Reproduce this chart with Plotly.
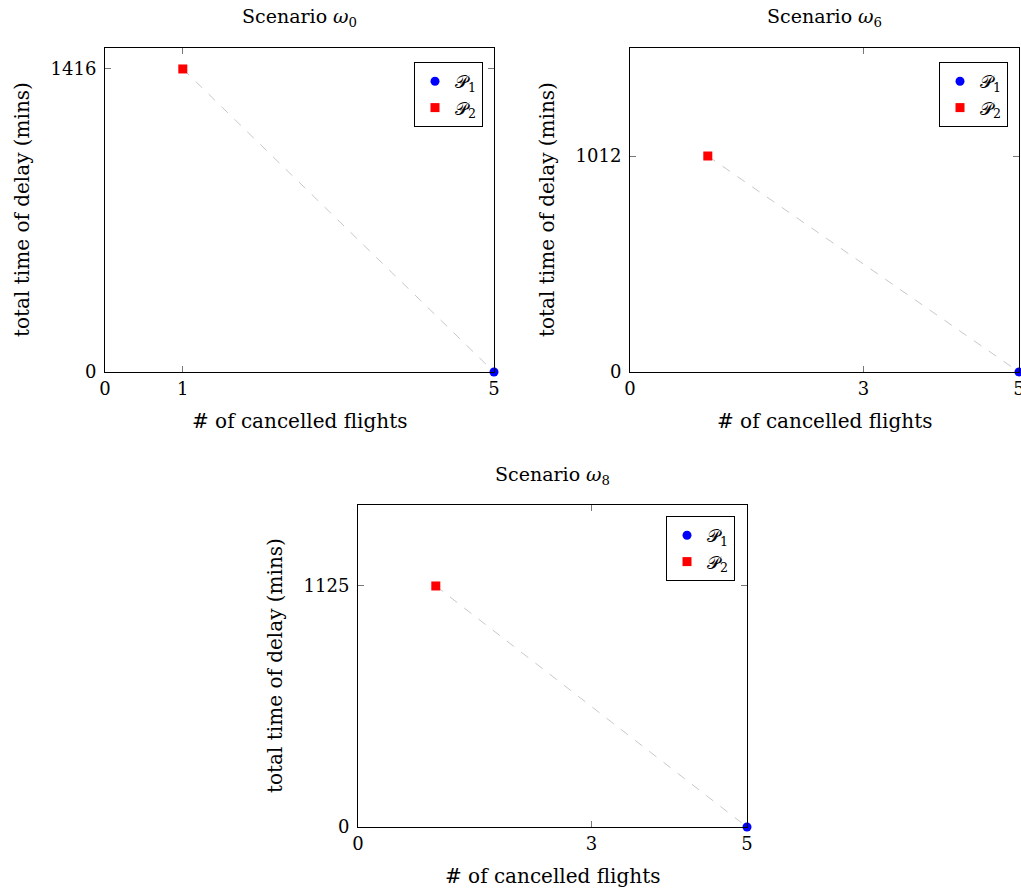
import plotly.graph_objects as go

W, H = 1021, 892

scenarios = ["0", "6", "8"]
p1_x = [5, 5, 5]
p1_y = [0, 0, 0]
p2_x = [1, 1, 1]
p2_y = [1416, 1012, 1125]
x_ticks = [[0, 1, 5], [0, 3, 5], [0, 3, 5]]
y_max = [1514, 1518, 1503]

# panel boxes in pixels: left, right, top, bottom
boxes = [(105, 494, 48, 372), (630, 1019, 48, 372), (358, 747, 505, 827)]
legend_pos = [(483, 62), (1008, 62), (735, 516)]

FONT = "DejaVu Serif"
fig = go.Figure()

def px(x):
    return x / W

def py(y):
    return 1 - y / H

for i in range(3):
    l, r, t, b = boxes[i]
    n = "" if i == 0 else str(i + 1)
    xa, ya = "x" + n, "y" + n
    leg = "legend" + n
    fig.add_trace(go.Scatter(
        x=[p2_x[i], p1_x[i]], y=[p2_y[i], p1_y[i]], mode="lines",
        line=dict(color="#c8c8c8", width=1, dash="dash"),
        showlegend=False, xaxis=xa, yaxis=ya, hoverinfo="skip", cliponaxis=False))
    fig.add_trace(go.Scatter(
        x=[p1_x[i]], y=[p1_y[i]], mode="markers", name="𝒫<sub>1</sub>",
        marker=dict(color="blue", symbol="circle", size=9),
        xaxis=xa, yaxis=ya, legend=leg, cliponaxis=False))
    fig.add_trace(go.Scatter(
        x=[p2_x[i]], y=[p2_y[i]], mode="markers", name="𝒫<sub>2</sub>",
        marker=dict(color="red", symbol="square", size=9),
        xaxis=xa, yaxis=ya, legend=leg, cliponaxis=False))
    axcommon = dict(showline=True, linecolor="black", linewidth=1, mirror="allticks",
                    ticks="inside", ticklen=6, tickcolor="#777", showgrid=False,
                    zeroline=False, automargin=False, ticklabeloverflow="allow",
                    tickfont=dict(family=FONT, size=18, color="black"))
    fig.update_layout(**{
        ("xaxis" + n): dict(domain=[px(l), px(r)], range=[0, 5], tickmode="array",
                            tickvals=x_ticks[i], anchor=ya, **axcommon),
        ("yaxis" + n): dict(domain=[py(b), py(t)], range=[0, y_max[i]], tickmode="array",
                            tickvals=[0, p2_y[i]], anchor=xa, ticklabelstandoff=4, **axcommon),
        leg: dict(x=px(legend_pos[i][0]), y=py(legend_pos[i][1]), xanchor="right", yanchor="top",
                  bordercolor="black", borderwidth=1, bgcolor="white",
                  font=dict(family=FONT, size=18, color="black"),
                  itemwidth=30, tracegroupgap=0),
    })
    cx = (l + r) / 2
    fig.add_annotation(x=px(cx), y=py(t - 30), xref="paper", yref="paper",
                       xanchor="center", yanchor="middle",
                       text="Scenario <i>ω</i><sub>" + scenarios[i] + "</sub>", showarrow=False,
                       font=dict(family=FONT, size=19, color="black"))
    fig.add_annotation(x=px(cx), y=py(b + 49), xref="paper", yref="paper",
                       xanchor="center", yanchor="middle",
                       text="# of cancelled flights", showarrow=False,
                       font=dict(family=FONT, size=20, color="black"))
    fig.add_annotation(x=px(l - 83), y=py((t + b) / 2), xref="paper", yref="paper",
                       xanchor="center", yanchor="middle",
                       text="total time of delay (mins)", showarrow=False, textangle=-90,
                       font=dict(family=FONT, size=20, color="black"))

fig.update_layout(width=W, height=H, margin=dict(l=0, r=0, t=0, b=0),
                  plot_bgcolor="white", paper_bgcolor="white")
fig.write_html("out.html")
